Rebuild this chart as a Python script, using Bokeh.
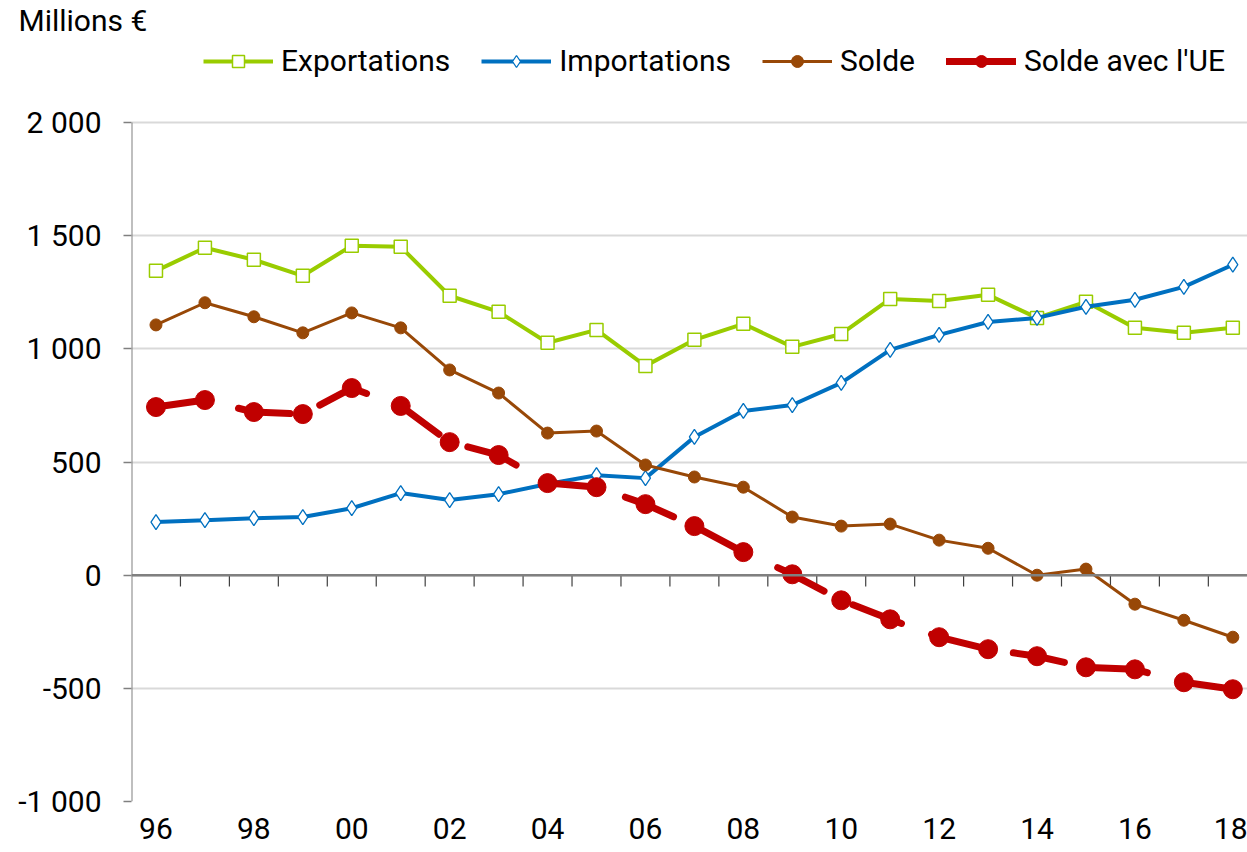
from bokeh.plotting import figure
from bokeh.models import (Legend, LegendItem, Span, FixedTicker,
                          ColumnDataSource, Range1d)
from bokeh.embed import file_html
from bokeh.resources import INLINE

years = list(range(1996, 2019))
exportations = [1345, 1447, 1394, 1323, 1456, 1451, 1235, 1164, 1027, 1084, 925,
                1040, 1111, 1009, 1066, 1221, 1212, 1239, 1137, 1208, 1093, 1071, 1093]
importations = [235, 243, 252, 257, 296, 363, 332, 358, 403, 442, 429,
                611, 726, 752, 850, 996, 1062, 1119, 1137, 1186, 1217, 1274, 1372]
solde = [1106, 1204, 1142, 1071, 1159, 1093, 907, 805, 628, 637, 487,
         434, 389, 257, 217, 226, 155, 119, 0, 27, -128, -199, -274]
solde_ue = [743, 774, 721, 712, 827, 748, 588, 531, 407, 389, 314,
            217, 102, 4, -111, -195, -274, -327, -358, -407, -416, -473, -504]
x_tick_years = years[::2]
x_tick_labels = ["96", "98", "00", "02", "04", "06", "08", "10", "12", "14", "16", "18"]
y_ticks = [-1000, -500, 0, 500, 1000, 1500, 2000]
y_tick_labels = ["-1 000", "-500", "0", "500", "1 000", "1 500", "2 000"]
series_names = ["Exportations", "Importations", "Solde", "Solde avec l'UE"]
unit_label = "Millions €"

FONT = "Roboto"
GREEN = "#99CC00"
BLUE = "#0070C0"
BROWN = "#984807"
RED = "#C00000"

TITLE_H = 38  # height of the title panel
Y_TOP = 2000 + (123 - TITLE_H) / 0.226

p = figure(width=1247, height=852, output_backend="svg",
           toolbar_location=None, x_range=Range1d(1995.5, 2018.3),
           y_range=Range1d(-1000, Y_TOP),
           min_border_left=131, min_border_right=0, min_border_top=0,
           min_border_bottom=51, title=unit_label)
p.outline_line_color = None
p.background_fill_color = "white"
p.border_fill_color = "white"

p.title.align = "left"
p.title.offset = -113
p.title.standoff = 0
p.title.text_font = FONT
p.title.text_font_size = "30px"
p.title.text_font_style = "normal"
p.title.text_color = "black"

# grid
p.xgrid.grid_line_color = None
p.ygrid.ticker = FixedTicker(ticks=y_ticks)
p.ygrid.grid_line_color = "#D9D9D9"
p.ygrid.grid_line_width = 2

# y axis (its line is drawn as a segment so that it stops at 2 000)
p.yaxis.ticker = FixedTicker(ticks=y_ticks)
p.yaxis.major_label_overrides = {t: l for t, l in zip(y_ticks, y_tick_labels)}
p.yaxis.axis_line_color = None
p.yaxis.major_tick_line_color = "#808080"
p.yaxis.major_tick_line_width = 1.5
p.yaxis.major_tick_in = 0
p.yaxis.major_tick_out = 8
p.yaxis.minor_tick_line_color = None
p.yaxis.major_label_standoff = 22
p.yaxis.major_label_text_font = FONT
p.yaxis.major_label_text_font_size = "30px"
p.yaxis.major_label_text_color = "black"
p.segment(x0=[1995.5], x1=[1995.5], y0=[y_ticks[0]], y1=[y_ticks[-1]],
          line_color="#808080", line_width=2)

# x axis
p.xaxis.ticker = FixedTicker(ticks=x_tick_years)
p.xaxis.major_label_overrides = {t: l for t, l in zip(x_tick_years, x_tick_labels)}
p.xaxis.axis_line_color = None
p.xaxis.major_tick_line_color = None
p.xaxis.minor_tick_line_color = None
p.xaxis.major_label_standoff = 10
p.xaxis.major_label_text_font = FONT
p.xaxis.major_label_text_font_size = "30px"
p.xaxis.major_label_text_color = "black"

# zero line with category-boundary ticks
p.add_layout(Span(location=0, dimension="width", line_color="#808080", line_width=2.5))
bounds = [y + 0.5 for y in years[:-1]]
p.segment(x0=bounds, x1=bounds, y0=[0] * len(bounds), y1=[-50] * len(bounds),
          line_color="#404040", line_width=1.2)

src = ColumnDataSource(dict(x=years, exp=exportations, imp=importations,
                            sol=solde, ue=solde_ue))

l_exp = p.line("x", "exp", source=src, line_color=GREEN, line_width=4)
m_exp = p.scatter("x", "exp", source=src, marker="square", size=13,
                  fill_color="white", line_color=GREEN, line_width=1.5)

l_imp = p.line("x", "imp", source=src, line_color=BLUE, line_width=4)
m_imp = p.scatter("x", "imp", source=src, marker="diamond", size=15,
                  fill_color="white", line_color=BLUE, line_width=1.3)

l_sol = p.line("x", "sol", source=src, line_color=BROWN, line_width=3)
m_sol = p.scatter("x", "sol", source=src, marker="circle", size=12,
                  fill_color=BROWN, line_color=BROWN)

l_ue = p.line("x", "ue", source=src, line_color=RED, line_width=7,
              line_dash="52 32", line_cap="round")
m_ue = p.scatter("x", "ue", source=src, marker="circle", size=19,
                 fill_color=RED, line_color=RED)
# solid line used only for the legend sample (a single NaN point draws nothing)
nan = float("nan")
l_ue_leg = p.line(x=[nan], y=[nan], line_color=RED, line_width=7, line_cap="round")

legend = Legend(items=[
    LegendItem(label=series_names[0], renderers=[l_exp, m_exp]),
    LegendItem(label=series_names[1], renderers=[l_imp, m_imp]),
    LegendItem(label=series_names[2], renderers=[l_sol, m_sol]),
    LegendItem(label=series_names[3], renderers=[l_ue_leg, m_ue]),
], orientation="horizontal", location=(72, 723))
legend.border_line_color = None
legend.background_fill_alpha = 0
legend.padding = 0
legend.margin = 0
legend.spacing = 31
legend.glyph_width = 70
legend.glyph_height = 30
legend.label_standoff = 8
legend.label_text_font = FONT
legend.label_text_font_size = "30px"
legend.label_text_color = "black"
p.add_layout(legend, "center")

open("out.html", "w").write(file_html(p, INLINE))
